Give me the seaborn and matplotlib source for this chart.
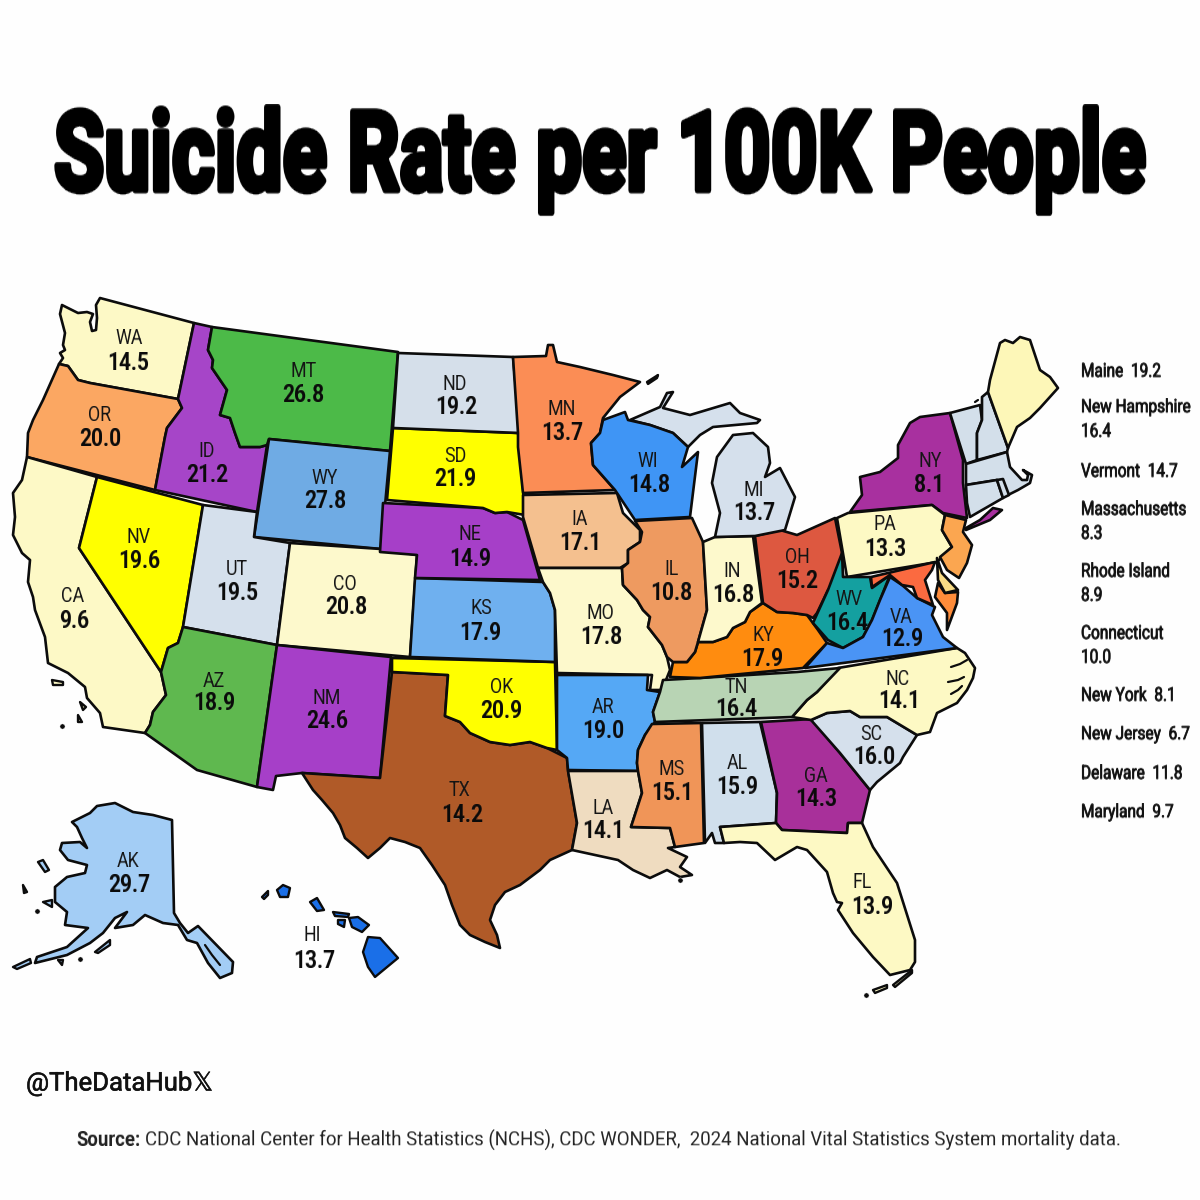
import numpy as np
import pandas as pd
import matplotlib
matplotlib.use("Agg")
import matplotlib.pyplot as plt
import matplotlib.patheffects as pe
import seaborn as sns

# state codes and rates shown on the map
STATE_CODES = ["WA","OR","CA","NV","ID","MT","WY","UT","CO","AZ","NM","ND","SD","NE","KS","OK","TX",
               "MN","IA","MO","AR","LA","WI","IL","MI","IN","OH","KY","TN","MS","AL","GA","SC","NC",
               "FL","VA","WV","PA","NY","AK","HI"]
STATE_RATES = ["14.5","20.0","9.6","19.6","21.2","26.8","27.8","19.5","20.8","18.9","24.6","19.2","21.9","14.9","17.9","20.9","14.2",
               "13.7","17.1","17.8","19.0","14.1","14.8","10.8","13.7","16.8","15.2","17.9","16.4","15.1","15.9","14.3","16.0","14.1",
               "13.9","12.9","16.4","13.3","8.1","29.7","13.7"]

# side list for the small north-east states
SIDE_LINES = ["Maine  19.2","New Hampshire","16.4","Vermont  14.7","Massachusetts","8.3","Rhode Island","8.9",
              "Connecticut","10.0","New York  8.1","New Jersey  6.7","Delaware  11.8","Maryland  9.7"]
SIDE_Y = [371,407,431,471,509,533,571,595,633,657,695,734,773,812]

# label anchors in picture pixels: code x, code y, rate x, rate y
LABEL_POS = {
    "WA":(129,338,128,362),"OR":(100,415,100,439),"CA":(73,596,74,620),"NV":(139,537,139,561),
    "ID":(207,451,207,474),"MT":(304,371,303,395),"WY":(325,478,325,501),"UT":(237,569,237,593),
    "CO":(345,584,346,607),"AZ":(214,681,214,703),"NM":(327,698,327,721),"ND":(455,384,456,407),
    "SD":(455,456,455,479),"NE":(470,534,470,558),"KS":(481,608,480,632),"OK":(502,687,501,711),
    "TX":(459,790,462,814),"MN":(562,409,562,433),"IA":(580,519,580,542),"MO":(600,613,601,637),
    "AR":(603,707,603,730),"LA":(603,808,603,831),"WI":(648,461,649,485),"IL":(671,569,671,593),
    "MI":(754,490,754,513),"IN":(732,571,733,594),"OH":(797,557,797,581),"KY":(763,635,762,658),
    "TN":(736,687,736,709),"MS":(672,769,672,792),"AL":(737,763,737,787),"GA":(816,776,816,799),
    "SC":(871,734,874,757),"NC":(898,679,899,701),"FL":(862,882,872,906),"VA":(901,617,902,639),
    "WV":(849,599,847,622),"PA":(885,524,885,548),"NY":(930,461,929,484),"AK":(128,861,129,885),
    "HI":(312,935,314,960),
}

# fill colours per region
FILL = {
    "WA":"#fdf9c6","OR":"#fba762","CA":"#fdf9c6","NV":"#ffff00","ID":"#a645c8","MT":"#4cba48",
    "WY":"#6fabe4","UT":"#d5e0ec","CO":"#fdf9cc","AZ":"#5fb84f","NM":"#a63fc8","ND":"#d5dfea",
    "SD":"#ffff00","NE":"#a63fc8","KS":"#6fb0ef","OK":"#ffff00","TX":"#b05a28","MN":"#fb8d55",
    "IA":"#f4c08f","MO":"#fdf9cc","AR":"#55a8f5","LA":"#efdcc0","WI":"#3f95f5","IL":"#ee9a60",
    "MI":"#d5e0ec","MI2":"#d5e0ec","IN":"#fdf9cc","OH":"#dd5840","KY":"#ff8c0f","TN":"#b8d4b4",
    "MS":"#f09558","AL":"#d0dfec","GA":"#a8309a","SC":"#d5e0ec","NC":"#fdf9c4","FL":"#fdf9c4",
    "VA":"#4a94f5","WV":"#14a0a0","PA":"#fdf9c4","NY":"#a8309f","LI":"#a8309f","NJ":"#fba650",
    "MD":"#fb6a40","DE":"#f9dc85","DM":"#ff8c3a","VT":"#d3dfea","NH":"#d3dfea","MA":"#d3dfea",
    "CT":"#d3dfea","RI":"#d3dfea","ME":"#fdf7b8","AK":"#a3cdf5",
}

# outlines, in picture pixels
OUTLINES = {
    "WA":[(62,305),(60,314),(65,333),(63,345),(65,350),(60,353),(63,358),(59,364),(68,366),(78,380),(90,383),(178,399),(194,323),(100,298),(96,305),(97,318),(96,330),(92,331),(90,322),(93,314),(87,312),(78,313)],
    "OR":[(59,364),(68,366),(78,380),(90,383),(178,399),(182,408),(167,428),(165,437),(155,490),(27,457),(28,433),(33,420),(43,400)],
    "CA":[(27,457),(97,477),(79,548),(161,672),(166,695),(153,712),(150,725),(145,733),(103,727),(100,713),(87,698),(85,687),(68,673),(48,663),(45,637),(35,610),(33,597),(28,582),(30,560),(22,553),(13,535),(15,517),(13,493),(22,480)],
    "NV":[(97,477),(203,505),(183,627),(178,643),(168,648),(161,672),(79,548)],
    "ID":[(194,323),(212,327),(208,350),(213,360),(212,368),(227,390),(220,415),(230,418),(235,433),(240,447),(260,447),(267,445),(257,512),(155,490),(165,437),(167,428),(182,408),(178,399)],
    "MT":[(212,327),(398,352),(390,451),(269,439),(267,445),(260,447),(240,447),(235,433),(230,418),(220,415),(227,390),(212,368),(213,360),(208,350)],
    "WY":[(269,439),(390,451),(381,549),(254,537)],
    "UT":[(203,505),(257,512),(254,537),(290,543),(277,645),(183,627)],
    "CO":[(290,543),(381,549),(417,555),(410,657),(277,645)],
    "AZ":[(183,627),(277,645),(257,787),(197,770),(145,733),(150,725),(153,712),(166,695),(161,672),(168,648),(178,643)],
    "NM":[(277,645),(391,657),(380,778),(302,773),(276,776),(273,790),(257,787)],
    "TX":[(392,672),(448,675),(445,716),(460,722),(470,733),(490,742),(510,745),(530,742),(547,748),(567,758),(568,770),(577,823),(572,850),(550,860),(540,870),(520,885),(505,892),(495,905),(490,920),(497,935),(500,948),(485,942),(470,935),(460,925),(452,905),(445,885),(432,865),(420,848),(405,842),(390,838),(380,848),(368,858),(357,848),(345,838),(340,825),(333,813),(322,800),(313,790),(302,773),(380,778)],
    "OK":[(392,658),(555,662),(557,750),(547,748),(530,742),(510,745),(490,742),(470,733),(460,722),(445,716),(448,675),(392,672)],
    "KS":[(415,578),(543,582),(550,593),(555,610),(555,662),(410,657)],
    "NE":[(383,503),(483,508),(495,513),(507,512),(523,520),(540,580),(415,578),(417,555),(380,552)],
    "SD":[(393,428),(518,433),(520,447),(525,515),(507,512),(495,513),(483,508),(387,500)],
    "ND":[(398,353),(513,357),(520,433),(393,428)],
    "MN":[(513,357),(546,356),(548,345),(553,345),(557,362),(580,367),(613,375),(640,382),(620,397),(603,418),(600,433),(591,443),(593,465),(615,490),(523,493),(518,447),(518,433)],
    "IA":[(523,495),(617,493),(623,513),(640,530),(640,542),(628,550),(628,563),(620,568),(538,568),(523,517)],
    "MO":[(538,568),(622,568),(623,585),(637,600),(643,610),(650,617),(648,627),(662,645),(667,657),(670,670),(662,690),(650,690),(652,675),(557,673),(555,610),(550,593),(543,582)],
    "AR":[(557,675),(648,675),(647,690),(660,692),(653,712),(655,722),(645,735),(638,750),(637,763),(638,771),(568,770),(567,758),(557,750)],
    "LA":[(568,771),(638,771),(642,793),(631,827),(670,828),(675,847),(668,848),(687,857),(680,867),(692,875),(680,877),(667,870),(650,878),(633,870),(618,860),(595,855),(572,850),(577,823)],
    "MS":[(652,724),(701,723),(704,843),(675,847),(670,828),(631,827),(642,793),(638,771),(637,763),(638,750),(645,735)],
    "AL":[(702,723),(760,722),(777,793),(776,823),(720,827),(724,843),(715,843),(712,833),(705,843)],
    "GA":[(761,722),(812,719),(840,753),(870,790),(862,823),(848,823),(847,833),(782,830),(776,823),(777,793)],
    "FL":[(720,827),(776,823),(782,830),(847,833),(848,823),(862,823),(873,847),(897,883),(915,940),(915,962),(910,970),(890,975),(873,957),(853,933),(838,910),(842,903),(837,902),(833,893),(827,872),(807,850),(797,847),(775,860),(757,843),(740,842),(724,843)],
    "SC":[(811,720),(827,713),(850,711),(860,717),(887,717),(917,735),(903,757),(900,763),(877,782),(870,790),(840,753)],
    "NC":[(792,717),(807,700),(817,692),(838,668),(957,648),(965,653),(975,668),(973,678),(967,690),(957,703),(937,713),(930,732),(917,735),(887,717),(860,717),(850,711),(827,713),(811,720)],
    "TN":[(663,680),(700,678),(797,672),(840,668),(817,692),(807,700),(792,717),(655,722),(653,712),(660,692)],
    "KY":[(670,677),(673,662),(687,662),(695,652),(698,642),(713,642),(727,637),(733,628),(745,622),(750,612),(763,603),(777,612),(793,613),(807,615),(818,630),(827,643),(803,668),(700,678)],
    "IL":[(635,521),(692,518),(703,542),(707,610),(698,642),(695,652),(687,662),(673,662),(667,657),(662,645),(648,627),(650,617),(643,610),(637,600),(623,585),(622,568),(628,563),(628,550),(640,542),(642,532)],
    "IN":[(703,542),(715,537),(753,536),(762,603),(750,612),(745,622),(733,628),(727,637),(713,642),(698,642),(707,610)],
    "OH":[(755,536),(780,530),(797,535),(835,518),(842,553),(843,577),(828,590),(817,613),(813,618),(807,615),(793,613),(777,612),(763,603)],
    "MI":[(715,537),(720,513),(712,483),(717,457),(733,435),(753,433),(768,447),(770,463),(765,477),(780,468),(795,497),(785,530),(755,536)],
    "MI2":[(630,420),(660,407),(667,393),(673,392),(663,408),(690,415),(730,403),(740,413),(760,420),(757,423),(713,427),(700,435),(688,447),(673,433),(650,425)],
    "WI":[(603,420),(625,412),(628,420),(650,425),(673,433),(688,447),(682,467),(698,452),(690,517),(635,520),(615,490),(593,465),(591,443),(600,433)],
    "NY":[(850,512),(862,495),(860,477),(880,472),(898,458),(898,445),(910,423),(920,417),(950,413),(963,460),(963,483),(967,518),(943,513),(932,505)],
    "LI":[(966,528),(980,520),(993,508),(1002,510),(990,520),(966,530)],
    "PA":[(837,518),(848,513),(932,505),(945,515),(942,530),(952,547),(937,562),(847,577)],
    "NJ":[(945,515),(966,520),(963,532),(972,545),(967,563),(959,578),(947,570),(940,557),(952,547),(942,530)],
    "WV":[(842,553),(843,577),(847,577),(870,577),(872,588),(890,575),(880,600),(872,620),(863,637),(843,648),(828,640),(813,623),(828,590)],
    "VA":[(890,577),(902,585),(917,598),(935,607),(932,615),(943,637),(957,648),(805,668),(827,643),(843,648),(863,637),(872,620),(880,600)],
    "MD":[(871,577),(872,587),(890,575),(902,585),(913,587),(917,598),(933,605),(925,580),(932,570),(935,562)],
    "DM":[(938,583),(945,593),(958,592),(957,603),(947,630),(947,613),(935,597)],
    "DE":[(937,558),(942,573),(958,590),(945,593),(938,580)],
    "VT":[(950,413),(980,405),(982,420),(977,433),(977,460),(966,464)],
    "NH":[(982,397),(988,392),(1008,448),(1007,452),(977,460),(977,433),(982,420)],
    "ME":[(988,392),(990,380),(1000,343),(1005,340),(1013,343),(1020,337),(1030,340),(1040,370),(1050,377),(1058,388),(1040,408),(1030,418),(1017,427),(1008,448)],
    "MA":[(966,464),(1007,452),(1010,467),(1022,480),(1027,480),(1028,475),(1023,470),(1032,475),(1030,483),(1018,490),(1008,495),(997,480),(966,485)],
    "CT":[(966,485),(997,480),(1003,498),(970,517),(967,503)],
    "RI":[(997,480),(1003,479),(1009,495),(1003,498)],
    "AK":[(72,822),(90,813),(97,806),(115,803),(133,812),(153,815),(172,820),(174,913),(180,923),(188,933),(198,926),(233,962),(232,973),(220,978),(208,963),(197,943),(187,940),(178,925),(163,923),(145,915),(133,925),(115,928),(127,912),(115,918),(103,933),(90,943),(67,955),(35,963),(37,957),(67,947),(88,928),(65,925),(67,912),(55,902),(55,887),(67,877),(85,873),(87,865),(68,860),(60,850),(62,843),(80,842),(87,848),(82,838),(77,827)],
}

# islands: (fill colour key, outline)
AK_ISLANDS = [
    [(95,952),(110,940),(110,945),(98,953)],
    [(43,902),(52,900),(52,907)],
    [(38,862),(43,860),(49,870),(45,872)],
    [(23,885),(27,892),(24,893)],
    [(13,967),(30,959),(31,963),(17,969)],
    [(58,960),(63,960),(62,965)],
]
HI_ISLANDS = [
    [(277,890),(283,885),(290,888),(288,897),(280,897)],
    [(262,897),(268,891),(268,895),(264,899)],
    [(310,902),(317,898),(324,910),(317,911)],
    [(333,912),(349,914),(348,917),(335,916)],
    [(338,920),(345,920),(344,927),(338,924)],
    [(349,918),(358,917),(369,925),(362,932),(352,927)],
    [(368,937),(380,938),(398,958),(375,977),(368,967),(363,952)],
]
COAST_ISLANDS = [
    [(52,680),(63,682),(63,685),(53,685)],
    [(80,702),(86,707),(83,710)],
    [(78,715),(82,722),(78,722)],
    [(873,990),(887,985),(887,988),(875,993)],
    [(893,985),(912,970),(912,973),(895,987)],
    [(647,382),(658,375),(657,378),(648,384)],
]
# inlets on the Carolina coast and in Alaska's panhandle
INLETS = [
    [(951,667),(960,664),(967,660)],
    [(948,682),(958,680),(964,677)],
    [(951,694),(958,690),(962,686)],
    [(205,945),(212,955),(220,965)],
    [(978,400),(975,402)],
]
DOTS_X = [37, 80, 62, 680, 866]
DOTS_Y = [911, 959, 726, 880, 995]

HI_BLUE = "#1a6fe8"
EDGE = "#0c0c0c"


def stretch_y(factor):
    """agg filter: stretches the drawn text vertically about its middle"""
    def _filter(img, dpi):
        h, w = img.shape[:2]
        new_h = int(round(h * factor))
        pos = np.linspace(0, h - 1, new_h)
        lo = np.floor(pos).astype(int)
        hi = np.minimum(lo + 1, h - 1)
        t = (pos - lo)[:, None, None]
        out = img[lo] * (1 - t) + img[hi] * t
        return out, 0, -(new_h - h) // 2
    return _filter


def draw_poly(ax, pts, color, lw=1.9):
    xs, ys = zip(*pts)
    ax.fill(xs, ys, facecolor=color, edgecolor=EDGE, linewidth=lw, joinstyle="round", zorder=2)


sns.set_theme(style="white")
plt.rcParams["font.family"] = ["Roboto", "DejaVu Sans"]

fig = plt.figure(figsize=(12, 12), dpi=100, facecolor="#fefefe")
ax = fig.add_axes([0, 0, 1, 1])

for key, pts in OUTLINES.items():
    draw_poly(ax, pts, FILL[key])
for pts in AK_ISLANDS:
    draw_poly(ax, pts, FILL["AK"], lw=1.7)
for pts in HI_ISLANDS:
    draw_poly(ax, pts, HI_BLUE, lw=1.7)
for pts in COAST_ISLANDS:
    draw_poly(ax, pts, "#fdf9c6", lw=1.7)
for pts in INLETS:
    xs, ys = zip(*pts)
    ax.plot(xs, ys, color=EDGE, linewidth=1.6, zorder=3)

dots = pd.DataFrame({"x": DOTS_X, "y": DOTS_Y})
sns.scatterplot(data=dots, x="x", y="y", color=EDGE, s=14, ax=ax, legend=False, zorder=3)

ax.set_xlim(0, 1200)
ax.set_ylim(1200, 0)
ax.set_axis_off()

# state labels, narrowed by using a smaller size and stretching it back up
for code, rate in zip(STATE_CODES, STATE_RATES):
    cx, cy, rx, ry = LABEL_POS[code]
    t1 = ax.text(cx, cy, code, ha="center", va="center", fontsize=12.8, color="#141414", zorder=4)
    t1.set_agg_filter(stretch_y(1.18))
    t2 = ax.text(rx, ry, rate, ha="center", va="center", fontsize=15, fontweight="bold", color="#0a0a0a", zorder=4)
    t2.set_agg_filter(stretch_y(1.22))

# side list
for line, y in zip(SIDE_LINES, SIDE_Y):
    t3 = ax.text(1081, y, line, ha="left", va="center", fontsize=11.1, color="#111111", zorder=4,
                 path_effects=[pe.withStroke(linewidth=0.5, foreground="#111111")])
    t3.set_agg_filter(stretch_y(1.2))

# title
title = ax.text(600, 160, "Suicide Rate per 100K People", ha="center", va="center",
                fontsize=59, fontweight="bold", color="black", zorder=5,
                path_effects=[pe.withStroke(linewidth=3.5, foreground="black")])
title.set_agg_filter(stretch_y(1.34))

# footer
ax.text(26, 1083, "@TheDataHub\U0001D54F", ha="left", va="center", fontsize=18.5, color="#111111",
        path_effects=[pe.withStroke(linewidth=0.4, foreground="#111111")])
t4 = ax.text(76, 1140, "Source:", ha="left", va="center", fontsize=13.3, fontweight="bold", color="#222222")
t4.set_agg_filter(stretch_y(1.12))
t5 = ax.text(145, 1140, "CDC National Center for Health Statistics (NCHS), CDC WONDER,  2024 National Vital Statistics System mortality data.",
             ha="left", va="center", fontsize=13.45, color="#222222")
t5.set_agg_filter(stretch_y(1.12))

fig.savefig("out.png", dpi=100, facecolor=fig.get_facecolor())
plt.close(fig)
